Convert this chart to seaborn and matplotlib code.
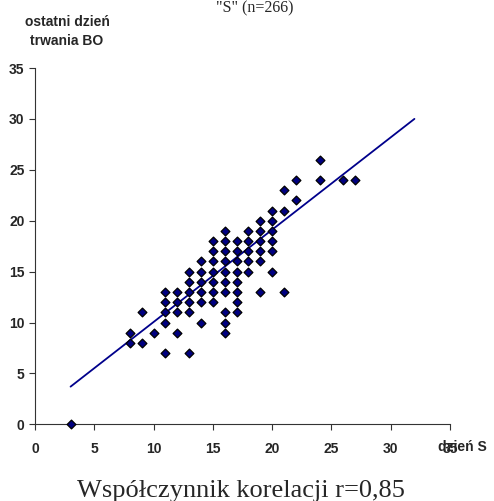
import matplotlib
matplotlib.use("Agg")
import matplotlib.pyplot as plt
import seaborn as sns
import pandas as pd

# ---- data ----
dzien_s = [3, 8, 8, 9, 9, 10,
           11, 11, 11, 11, 11,
           12, 12, 12, 12,
           13, 13, 13, 13, 13, 13,
           14, 14, 14, 14, 14, 14,
           15, 15, 15, 15, 15, 15, 15,
           16, 16, 16, 16, 16, 16, 16, 16, 16, 16,
           17, 17, 17, 17, 17, 17, 17, 17,
           18, 18, 18, 18, 18,
           19, 19, 19, 19, 19, 19,
           20, 20, 20, 20, 20, 20,
           21, 21, 21,
           22, 22,
           24, 24,
           26, 27]
ostatni_dzien = [0, 9, 8, 11, 8, 9,
                 13, 12, 11, 10, 7,
                 13, 12, 11, 9,
                 15, 14, 13, 12, 11, 7,
                 16, 15, 14, 13, 12, 10,
                 18, 17, 16, 15, 14, 13, 12,
                 19, 18, 17, 16, 15, 14, 13, 11, 10, 9,
                 18, 17, 16, 15, 14, 13, 12, 11,
                 19, 18, 17, 16, 15,
                 20, 19, 18, 17, 16, 13,
                 21, 20, 19, 18, 17, 15,
                 23, 21, 13,
                 24, 22,
                 26, 24,
                 24, 24]
trend_x = [3, 32]
trend_y = [3.7, 30.0]
x_ticks = [0, 5, 10, 15, 20, 25, 30, 35]
y_ticks = [0, 5, 10, 15, 20, 25, 30, 35]

title_text = '"S" (n=266)'
ylabel_text = "ostatni dzień\ntrwania BO"
xlabel_text = "dzień S"
footer_text = "Współczynnik korelacji r=0,85"

df = pd.DataFrame({"dzien_S": dzien_s, "ostatni": ostatni_dzien})

sns.set_style("white")
plt.rcParams["font.family"] = ["Liberation Sans", "DejaVu Sans"]

W, H = 494, 501
fig = plt.figure(figsize=(W / 100, H / 100), dpi=100)
x0, x1 = 35.0, 450.0
y0, y1 = 424.3, 68.0
ax = fig.add_axes([x0 / W, 1 - y0 / H, (x1 - x0) / W, (y0 - y1) / H])

sns.lineplot(x=trend_x, y=trend_y, color="#00008B", linewidth=1.3, ax=ax, zorder=2)
sns.scatterplot(data=df, x="dzien_S", y="ostatni", marker="D", s=20,
                color="#000080", edgecolor="black", linewidth=0.9,
                ax=ax, clip_on=False, zorder=3)

ax.set_xlim(0, 35)
ax.set_ylim(0, 35)
ax.set_xticks(x_ticks)
ax.set_yticks(y_ticks)
ax.tick_params(axis="both", which="both", bottom=True, left=True,
               direction="out", length=4.5, width=0.8, color="#333333",
               labelsize=10)
ax.tick_params(axis="y", pad=3)
ax.tick_params(axis="x", pad=8)
for lab in ax.get_xticklabels() + ax.get_yticklabels():
    lab.set_fontweight("bold")

for side in ["top", "right"]:
    ax.spines[side].set_visible(False)
for side in ["left", "bottom"]:
    ax.spines[side].set_color("#333333")
    ax.spines[side].set_linewidth(0.8)

ax.set_xlabel(xlabel_text, fontsize=10, fontweight="bold", ha="left", va="top")
ax.xaxis.set_label_coords((438 - x0) / (x1 - x0), (y0 - 440) / (y0 - y1))

ax.set_ylabel(ylabel_text, fontsize=10, fontweight="bold", rotation=0,
              ha="center", va="bottom", linespacing=1.45)
ax.yaxis.set_label_coords((67 - x0) / (x1 - x0), (y0 - 48) / (y0 - y1))

fig.text(255 / W, 1 - 12.5 / H, title_text, fontsize=11.5,
         family=["Liberation Serif", "DejaVu Serif"], ha="center", va="baseline")
fig.text(240.5 / W, 1 - 497 / H, footer_text, fontsize=19,
         family=["Liberation Serif", "DejaVu Serif"], ha="center", va="baseline")

fig.savefig("out.png", dpi=100)
